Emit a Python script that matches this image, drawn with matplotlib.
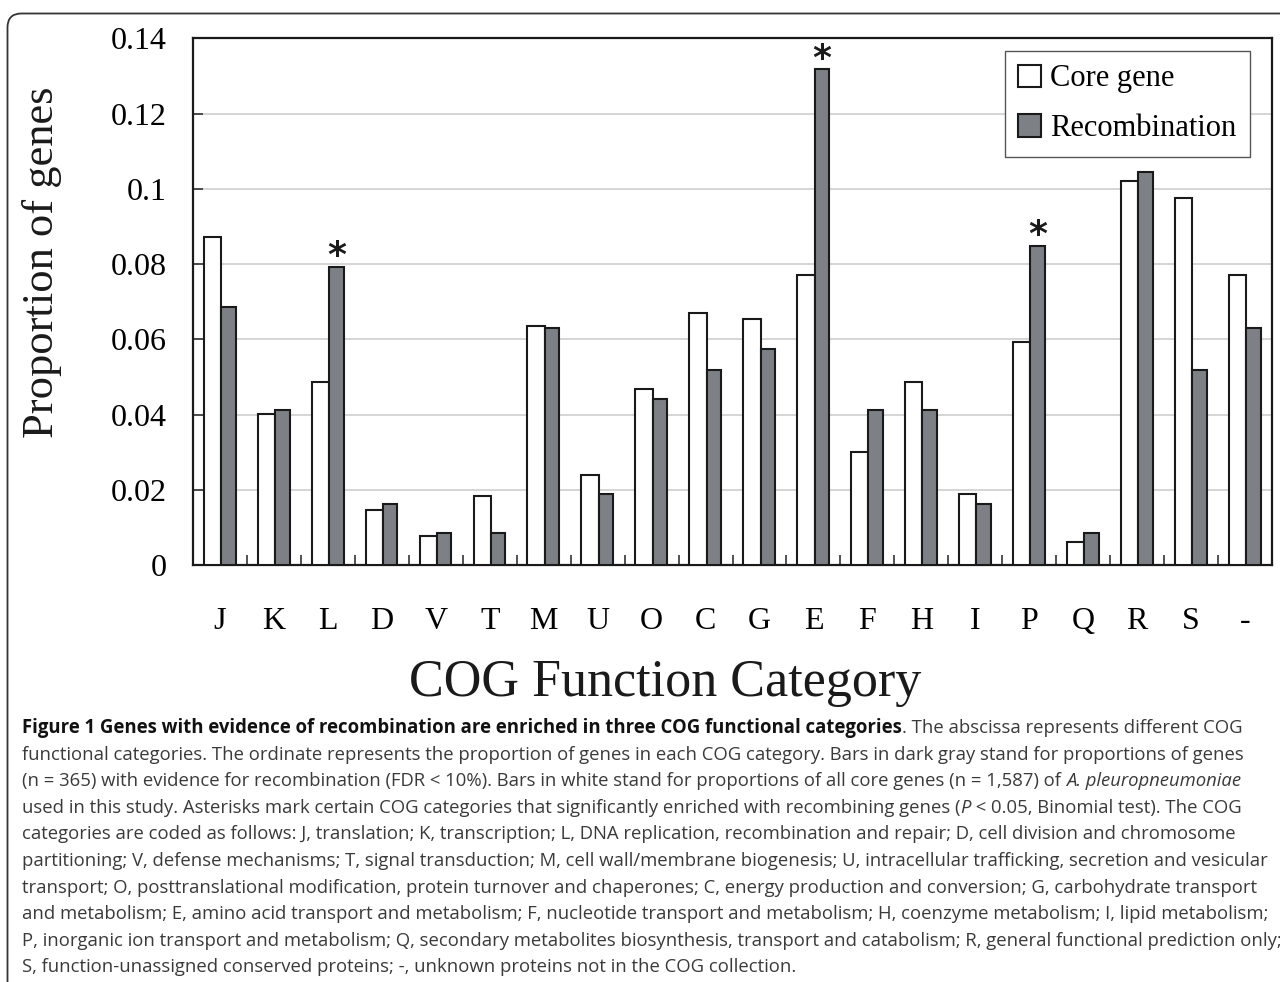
import numpy as np
import matplotlib
matplotlib.use("Agg")
import matplotlib.pyplot as plt
from matplotlib.patches import FancyBboxPatch, Patch
from matplotlib.transforms import IdentityTransform

categories = ['J', 'K', 'L', 'D', 'V', 'T', 'M', 'U', 'O', 'C',
              'G', 'E', 'F', 'H', 'I', 'P', 'Q', 'R', 'S', '-']
core_gene = [0.0871, 0.0402, 0.0487, 0.0146, 0.0078, 0.0183, 0.0636, 0.0239, 0.0469, 0.0669,
             0.0654, 0.0772, 0.0300, 0.0486, 0.0189, 0.0593, 0.0061, 0.1021, 0.0977, 0.0772]
recombination = [0.0687, 0.0413, 0.0793, 0.0161, 0.0086, 0.0086, 0.0631, 0.0190, 0.0441, 0.0519,
                 0.0575, 0.1318, 0.0413, 0.0413, 0.0161, 0.0848, 0.0086, 0.1044, 0.0519, 0.0631]
enriched = ['L', 'E', 'P']
yticks = [0, 0.02, 0.04, 0.06, 0.08, 0.1, 0.12, 0.14]

# caption: one list of (text, style) pieces per line
caption = [
    [("Figure 1 Genes with evidence of recombination are enriched in three COG functional categories", "bold"),
     (". The abscissa represents different COG", "normal")],
    [("functional categories. The ordinate represents the proportion of genes in each COG category. Bars in dark gray stand for proportions of genes", "normal")],
    [("(n = 365) with evidence for recombination (FDR < 10%). Bars in white stand for proportions of all core genes (n = 1,587) of ", "normal"),
     ("A. pleuropneumoniae", "italic")],
    [("used in this study. Asterisks mark certain COG categories that significantly enriched with recombining genes (", "normal"),
     ("P", "italic"), (" < 0.05, Binomial test). The COG", "normal")],
    [("categories are coded as follows: J, translation; K, transcription; L, DNA replication, recombination and repair; D, cell division and chromosome", "normal")],
    [("partitioning; V, defense mechanisms; T, signal transduction; M, cell wall/membrane biogenesis; U, intracellular trafficking, secretion and vesicular", "normal")],
    [("transport; O, posttranslational modification, protein turnover and chaperones; C, energy production and conversion; G, carbohydrate transport", "normal")],
    [("and metabolism; E, amino acid transport and metabolism; F, nucleotide transport and metabolism; H, coenzyme metabolism; I, lipid metabolism;", "normal")],
    [("P, inorganic ion transport and metabolism; Q, secondary metabolites biosynthesis, transport and catabolism; R, general functional prediction only;", "normal")],
    [("S, function-unassigned conserved proteins; -, unknown proteins not in the COG collection.", "normal")],
]

W, H = 1280, 982
serif = ['Liberation Serif', 'DejaVu Serif']
fig = plt.figure(figsize=(W / 100, H / 100), dpi=100)
ax = fig.add_axes([193 / W, 1 - 565 / H, (1272 - 193) / W, (565 - 38.5) / H])

x = np.arange(len(categories))
ax.bar(x - 0.14, core_gene, width=0.32, color='white', edgecolor='#1a1a1a', linewidth=1.5,
       label='Core gene', zorder=3)
ax.bar(x + 0.155, recombination, width=0.27, color='#7d8084', edgecolor='#1a1a1a', linewidth=1.5,
       label='Recombination', zorder=3)

for c in enriched:
    i = categories.index(c)
    ax.annotate('*', xy=(i + 0.155, recombination[i]), xytext=(0, 0.5), textcoords='offset points',
                ha='center', va='baseline', fontsize=26, fontweight='bold', color='#1a1a1a',
                family='DejaVu Sans')

ax.set_xlim(-0.5, len(categories) - 0.5)
ax.set_ylim(0, 0.14)
ax.set_yticks(yticks)
ax.set_yticklabels([f'{v:g}' for v in yticks], family=serif, fontsize=23)
ax.set_xticks(x)
ax.set_xticklabels(categories, family=serif, fontsize=23)
ax.set_xticks(x[:-1] + 0.5, minor=True)
ax.tick_params(axis='x', which='major', length=0, pad=30)
ax.tick_params(axis='x', which='minor', direction='in', length=7, width=1.2, color='#333333')
ax.tick_params(axis='y', direction='in', length=7.5, width=1.2, color='#333333', pad=19)
ax.grid(axis='y', color='#d2d2d2', linewidth=1.3, zorder=0)
for s in ax.spines.values():
    s.set_linewidth(1.6)
    s.set_color('#1a1a1a')

handles = [Patch(facecolor='white', edgecolor='#1a1a1a', linewidth=1.5, label='Core gene'),
           Patch(facecolor='#7d8084', edgecolor='#1a1a1a', linewidth=1.5, label='Recombination')]
leg = ax.legend(handles=handles, loc='upper right', bbox_to_anchor=(0.980, 0.977), borderaxespad=0,
                prop={'family': serif, 'size': 22}, handlelength=0.75, handleheight=0.75,
                handletextpad=0.3, labelspacing=0.68, borderpad=0.45, fancybox=False,
                framealpha=1, edgecolor='#555555')
leg.get_frame().set_linewidth(1.0)

fig.text(42 / W, 1 - 262 / H, 'Proportion of genes', rotation=90, ha='center', va='center',
         family=serif, fontsize=32, color='#1a1a1a')
fig.text(665 / W, 1 - 683 / H, 'COG Function Category', ha='center', va='center',
         family=serif, fontsize=37.5, color='#1a1a1a')

# outer rounded frame, running off the right and bottom edges
frame = FancyBboxPatch((7.5, -40), 1320, H - 13.5 + 40, boxstyle='round,pad=0,rounding_size=14',
                       transform=IdentityTransform(), facecolor='none', edgecolor='#333333',
                       linewidth=1.3)
fig.add_artist(frame)

# caption, piece by piece; size fitted so the longest line spans the text block
renderer = fig.canvas.get_renderer()
cap_font = 'Open Sans'
probe = fig.text(0, 0, caption[8][0][0], family=cap_font, fontsize=12)
scale = (1276 - 22) / probe.get_window_extent(renderer).width
probe.remove()
cap_size = 12 * scale

y0, step = 733, 26.6
for n, line in enumerate(caption):
    xpos = 22
    ypos = H - (y0 + n * step)
    for text, style in line:
        kw = dict(family=cap_font, fontsize=cap_size, va='baseline', ha='left',
                  transform=IdentityTransform())
        if style == 'bold':
            kw.update(fontweight='bold', color='#111111')
        else:
            kw.update(color='#3a3a3a')
            if style == 'italic':
                kw.update(style='italic')
        t = fig.text(xpos, ypos, text, **kw)
        xpos = t.get_window_extent(renderer).x1

fig.savefig('out.png', dpi=100)
